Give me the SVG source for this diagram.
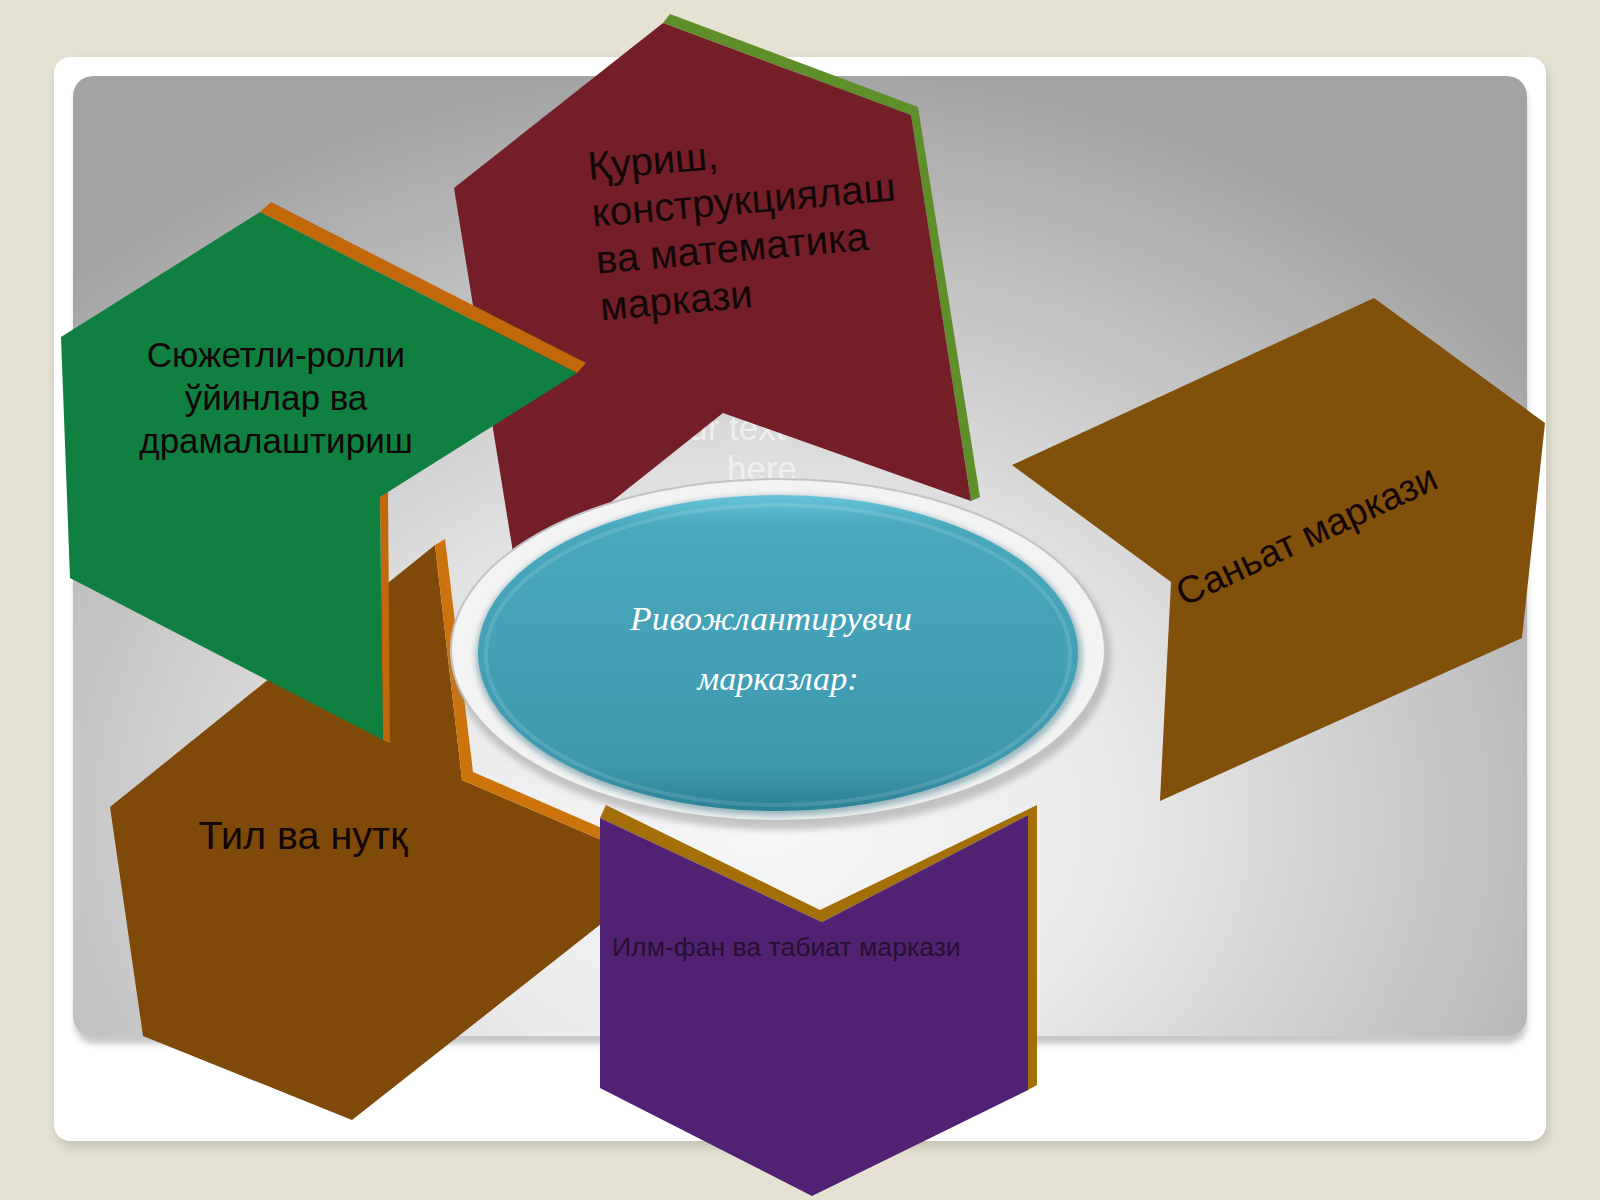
<svg xmlns="http://www.w3.org/2000/svg" width="1600" height="1200" viewBox="0 0 1600 1200">
<defs>
  <radialGradient id="panelGrad" gradientUnits="userSpaceOnUse" cx="760" cy="820" r="760" gradientTransform="translate(760 820) scale(1.3 1) translate(-760 -820)">
    <stop offset="0" stop-color="#f7f7f7"/>
    <stop offset="0.35" stop-color="#ebebeb"/>
    <stop offset="0.75" stop-color="#c0c0c0"/>
    <stop offset="1" stop-color="#a3a3a3"/>
  </radialGradient>
  <linearGradient id="teal" x1="0" y1="0" x2="0" y2="1">
    <stop offset="0" stop-color="#66c3d9"/>
    <stop offset="0.1" stop-color="#49a8be"/>
    <stop offset="0.85" stop-color="#3e99ae"/>
    <stop offset="1" stop-color="#2b8094"/>
  </linearGradient>
  <filter id="soft" x="-10%" y="-10%" width="120%" height="120%"><feGaussianBlur stdDeviation="6"/></filter>
  <filter id="soft3" x="-10%" y="-10%" width="120%" height="120%"><feGaussianBlur stdDeviation="3"/></filter>
  <style>
    .lbl { font-family: "Liberation Sans", "Noto Sans", Arial, sans-serif; fill: #120606; }
    .ctr { font-family: "Liberation Serif", "DejaVu Serif", serif; font-style: italic; fill: #ffffff; font-size: 33px; text-anchor: middle; }
    .ghost { font-family: "Liberation Sans", Arial, sans-serif; font-size: 35px; fill: #f6f6f6; opacity: 0.75; text-anchor: middle; }
  </style>
</defs>

<rect x="0" y="0" width="1600" height="1200" fill="#e5e2d3"/>

<g id="card">
  <rect x="56" y="63" width="1492" height="1084" rx="18" fill="#a9a699" opacity="0.55" filter="url(#soft)"/>
  <rect x="54" y="57" width="1492" height="1084" rx="16" fill="#ffffff"/>
  <rect x="75" y="83" width="1452" height="961" rx="20" fill="#8f8f8f" opacity="0.5" filter="url(#soft3)"/>
  <rect x="73" y="76" width="1454" height="960" rx="20" fill="url(#panelGrad)"/>
</g>

<g id="ghost-text">
  <text class="ghost" x="717" y="440">Your text</text>
  <text class="ghost" x="762" y="481">here</text>
</g>

<g id="node-qurish">
  <polygon points="663,23 670,14 918,107 911,115" fill="#5f8f2a"/>
  <polygon points="911,115 918,107 980,497 971,501" fill="#5f8f2a"/>
  <polygon points="663,23 911,115 971,501 723,413 517,577 454,188" fill="#741f28"/>
  <g transform="rotate(-5 589 180)">
    <text class="lbl" font-size="40" x="589" y="180">Қуриш,</text>
    <text class="lbl" font-size="40" x="589" y="227">конструкциялаш</text>
    <text class="lbl" font-size="40" x="589" y="274">ва математика</text>
    <text class="lbl" font-size="40" x="589" y="321">маркази</text>
  </g>
</g>

<g id="node-til">
  <polygon points="435,545 462,780 620,848 620,909 352,1120 143,1036 110,807" fill="#7e4909"/>
  <polygon points="435,545 445,539 473,772 620,836 620,848 462,780" fill="#cc730c"/>
  <text class="lbl" font-size="39.5" x="303" y="849" text-anchor="middle">Тил ва нутқ</text>
</g>

<g id="node-syuzhet">
  <polygon points="260,212 271,202 586,363 577,373" fill="#c2680a"/>
  <polygon points="380,497 388,491 390,743 383,740" fill="#c2680a"/>
  <polygon points="260,212 577,373 380,497 383,740 70,578 61,337" fill="#0f8040"/>
  <text class="lbl" font-size="35" x="276" y="367" text-anchor="middle">Сюжетли-ролли</text>
  <text class="lbl" font-size="35" x="276" y="410" text-anchor="middle">ўйинлар ва</text>
  <text class="lbl" font-size="35" x="276" y="453" text-anchor="middle">драмалаштириш</text>
</g>

<g id="node-ilm">
  <polygon points="600,818 606,805 820,910 1037,805 1037,1085 1028,1090 1028,815 822,922" fill="#a36f06"/>
  <polygon points="600,818 822,922 1028,815 1028,1090 812,1196 600,1088" fill="#512274"/>
  <text class="lbl" font-size="26.6" x="612" y="956" style="fill:#24102f">Илм-фан ва табиат маркази</text>
</g>

<g id="node-sanat">
  <polygon points="1374,298 1545,423 1522,638 1160,801 1171,582 1012,465" fill="#81500a"/>
  <text class="lbl" font-size="38" x="1312" y="547" text-anchor="middle" transform="rotate(-25 1312 547)">Саньат маркази</text>
</g>

<g id="center">
  <ellipse cx="781" cy="657" rx="330" ry="173" fill="#8a8a8a" opacity="0.45" filter="url(#soft3)"/>
  <ellipse cx="778" cy="650" rx="327" ry="171" fill="#f3f3f3" stroke="#c3c3c3" stroke-width="2"/>
  <ellipse cx="779" cy="656" rx="303" ry="160" fill="#5f8e99" opacity="0.6" filter="url(#soft3)"/>
  <ellipse cx="778" cy="653" rx="300" ry="158" fill="url(#teal)"/>
  <ellipse cx="778" cy="655" rx="292" ry="150" fill="none" stroke="#ffffff" stroke-opacity="0.12" stroke-width="4"/>
  <text class="ctr" x="771" y="630" textLength="282" lengthAdjust="spacingAndGlyphs">Ривожлантирувчи</text>
  <text class="ctr" x="778" y="690" textLength="161" lengthAdjust="spacingAndGlyphs">марказлар:</text>
</g>

<g id="connectors"></g>
</svg>
